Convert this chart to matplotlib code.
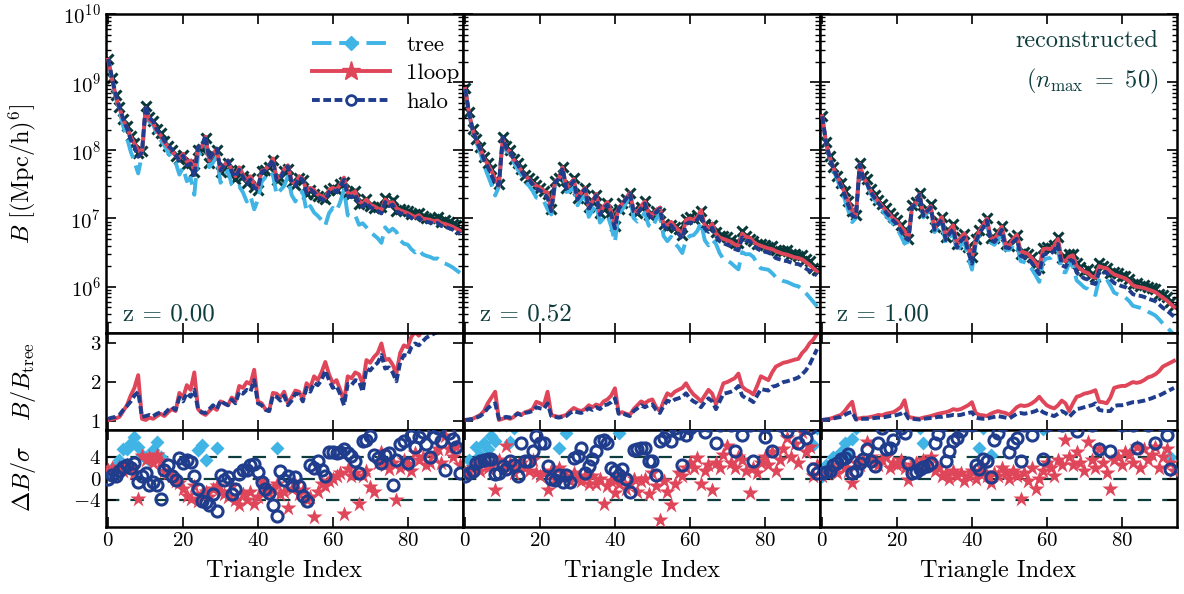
import numpy as np
import matplotlib
matplotlib.use("Agg")
import matplotlib.pyplot as plt
from matplotlib.lines import Line2D

plt.rcParams.update({
    "font.family": "cmr10",
    "mathtext.fontset": "cm",
    "axes.formatter.use_mathtext": True,
    "axes.linewidth": 1.8,
    "xtick.direction": "in", "ytick.direction": "in",
    "xtick.top": True, "ytick.right": True,
    "xtick.major.size": 7, "ytick.major.size": 7,
    "xtick.minor.size": 3.5, "ytick.minor.size": 3.5,
    "xtick.major.width": 1.2, "ytick.major.width": 1.2,
    "ytick.minor.width": 1.0,
})

TREE = "#3fb4e5"
LOOP = "#e0465a"
HALO = "#1f3d8c"
DATA = "#08393a"
TEAL = "#0f3d3e"

redshifts = ["z = 0.00", "z = 0.52", "z = 1.00"]
rel_err = [0.02, 0.02, 0.02]

# log10 of the 1-loop bispectrum per triangle index
logB_1loop = [
    [9.33, 9.05, 8.80, 8.62, 8.45, 8.33, 8.20, 8.10, 8.00, 7.95,
     8.62, 8.45, 8.40, 8.28, 8.22, 8.12, 8.05, 8.00, 7.92, 7.88,
     7.95, 7.83, 7.85, 7.70, 8.05, 8.05, 8.20, 7.85, 7.95, 8.02,
     7.70, 7.78, 7.85, 7.70, 7.62, 7.75, 7.65, 7.55, 7.62, 7.50,
     7.45, 7.70, 7.72, 7.78, 7.88, 7.58, 7.62, 7.72, 7.78, 7.55,
     7.50, 7.62, 7.58, 7.40, 7.45, 7.42, 7.35, 7.33, 7.30, 7.42,
     7.45, 7.42, 7.50, 7.60, 7.38, 7.35, 7.40, 7.25, 7.22, 7.28,
     7.20, 7.18, 7.15, 7.12, 7.28, 7.22, 7.24, 7.15, 7.12, 7.10,
     7.08, 7.05, 7.02, 7.05, 7.00, 6.99, 6.98, 6.96, 6.97, 6.93,
     6.92, 6.90, 6.88, 6.85, 6.82],
    [8.90, 8.55, 8.30, 8.15, 8.03, 7.88, 7.80, 7.70, 7.58, 7.48,
     8.18, 8.02, 7.98, 7.86, 7.80, 7.70, 7.62, 7.58, 7.52, 7.48,
     7.45, 7.40, 7.38, 7.12, 7.55, 7.58, 7.75, 7.45, 7.50, 7.58,
     7.30, 7.38, 7.45, 7.17, 7.25, 7.36, 7.08, 7.18, 7.24, 7.10,
     6.92, 7.15, 7.22, 7.30, 7.38, 7.12, 7.10, 7.18, 7.25, 7.08,
     7.05, 7.12, 7.16, 6.92, 6.90, 6.95, 6.88, 6.83, 6.76, 6.98,
     7.00, 6.98, 7.02, 7.12, 6.90, 6.86, 6.92, 6.78, 6.72, 6.70,
     6.68, 6.66, 6.62, 6.60, 6.78, 6.73, 6.72, 6.66, 6.62, 6.60,
     6.58, 6.56, 6.55, 6.52, 6.50, 6.48, 6.47, 6.45, 6.43, 6.42,
     6.40, 6.36, 6.32, 6.27, 6.22],
    [8.50, 8.12, 7.90, 7.74, 7.62, 7.50, 7.38, 7.25, 7.12, 7.03,
     7.80, 7.60, 7.52, 7.40, 7.32, 7.25, 7.18, 7.12, 7.06, 7.00,
     6.96, 6.88, 6.82, 6.70, 7.18, 7.22, 7.36, 7.05, 7.12, 7.18,
     6.86, 6.95, 7.02, 6.72, 6.82, 6.90, 6.62, 6.72, 6.78, 6.58,
     6.42, 6.70, 6.82, 6.90, 7.00, 6.72, 6.70, 6.78, 6.88, 6.62,
     6.60, 6.70, 6.76, 6.52, 6.50, 6.48, 6.42, 6.35, 6.28, 6.55,
     6.56, 6.55, 6.60, 6.70, 6.40, 6.37, 6.44, 6.46, 6.30, 6.26,
     6.22, 6.20, 6.15, 6.13, 6.30, 6.28, 6.27, 6.22, 6.18, 6.16,
     6.14, 6.12, 6.08, 6.02, 6.00, 5.99, 5.98, 5.96, 5.94, 5.92,
     5.88, 5.84, 5.80, 5.75, 5.70],
]

# B_1loop / B_tree
ratio_1loop = [
    [1.02, 1.04, 1.06, 1.10, 1.25, 1.40, 1.65, 1.85, 2.18, 1.05,
     1.02, 1.08, 1.05, 1.12, 1.18, 1.12, 1.22, 1.30, 1.25, 1.72,
     1.60, 1.92, 1.80, 2.25, 1.30, 1.20, 1.15, 1.25, 1.35, 1.28,
     1.50, 1.45, 1.40, 1.60, 1.50, 1.90, 1.85, 2.00, 1.95, 2.32,
     1.50, 1.45, 1.30, 1.25, 1.72, 1.70, 1.60, 1.75, 1.45, 1.60,
     1.78, 1.75, 1.55, 1.97, 1.85, 2.15, 2.05, 2.25, 2.52, 2.20,
     1.97, 2.05, 1.80, 1.50, 2.15, 2.10, 2.25, 2.20, 1.95, 2.57,
     2.50, 2.65, 2.75, 3.00, 2.57, 2.60, 2.45, 2.22, 2.75, 2.95,
     2.90, 3.17, 3.30, 3.20, 3.35, 3.45, 3.50, 3.55, 3.60, 3.70,
     3.80, 3.85, 3.95, 4.05, 4.15],
    [1.02, 1.03, 1.05, 1.10, 1.15, 1.25, 1.45, 1.60, 1.75, 1.02,
     1.05, 1.08, 1.05, 1.10, 1.20, 1.15, 1.22, 1.25, 1.30, 1.49,
     1.45, 1.40, 1.75, 1.15, 1.12, 1.10, 1.12, 1.15, 1.25, 1.33,
     1.28, 1.25, 1.30, 1.40, 1.35, 1.42, 1.38, 1.50, 1.55, 1.65,
     1.84, 1.20, 1.22, 1.18, 1.15, 1.30, 1.40, 1.50, 1.45, 1.52,
     1.55, 1.35, 1.25, 1.50, 1.71, 1.65, 1.75, 1.80, 1.85, 1.97,
     1.80, 1.68, 1.60, 1.50, 1.65, 1.80, 1.70, 1.42, 1.70, 1.97,
     2.00, 2.05, 2.10, 2.22, 1.88, 1.80, 1.75, 1.68, 1.90, 2.15,
     2.10, 2.05, 2.25, 2.40, 2.45, 2.50, 2.52, 2.55, 2.58, 2.60,
     2.75, 2.85, 3.00, 3.10, 3.25],
    [1.02, 1.03, 1.05, 1.08, 1.12, 1.15, 1.25, 1.38, 1.49, 1.05,
     1.06, 1.08, 1.08, 1.10, 1.12, 1.15, 1.14, 1.18, 1.20, 1.22,
     1.28, 1.35, 1.53, 1.10, 1.08, 1.06, 1.05, 1.08, 1.10, 1.12,
     1.15, 1.18, 1.20, 1.22, 1.25, 1.30, 1.28, 1.30, 1.35, 1.40,
     1.48, 1.20, 1.15, 1.14, 1.12, 1.18, 1.22, 1.25, 1.22, 1.20,
     1.15, 1.25, 1.35, 1.40, 1.38, 1.40, 1.45, 1.52, 1.62, 1.50,
     1.40, 1.35, 1.32, 1.40, 1.52, 1.45, 1.25, 1.45, 1.62, 1.65,
     1.70, 1.72, 1.75, 1.79, 1.49, 1.48, 1.45, 1.60, 1.85, 1.88,
     1.90, 1.90, 1.95, 2.00, 1.98, 2.00, 2.05, 2.12, 2.15, 2.20,
     2.28, 2.40, 2.45, 2.50, 2.55],
]

# B_halo / B_tree
ratio_halo = [
    [1.05, 1.08, 1.10, 1.15, 1.28, 1.38, 1.50, 1.65, 1.75, 1.10,
     1.12, 1.15, 1.12, 1.18, 1.22, 1.18, 1.28, 1.35, 1.28, 1.60,
     1.50, 1.72, 1.62, 1.80, 1.30, 1.22, 1.20, 1.30, 1.40, 1.30,
     1.52, 1.45, 1.40, 1.55, 1.45, 1.75, 1.70, 1.80, 1.75, 2.05,
     1.45, 1.40, 1.28, 1.25, 1.65, 1.62, 1.52, 1.65, 1.40, 1.52,
     1.70, 1.68, 1.50, 1.85, 1.75, 1.98, 1.92, 2.05, 2.30, 2.05,
     1.85, 1.90, 1.68, 1.40, 1.95, 1.92, 2.05, 2.02, 1.75, 2.35,
     2.30, 2.42, 2.50, 2.70, 2.35, 2.38, 2.25, 2.02, 2.50, 2.70,
     2.68, 2.90, 3.00, 2.95, 3.05, 3.15, 3.20, 3.25, 3.30, 3.38,
     3.45, 3.50, 3.58, 3.65, 3.72],
    [1.02, 1.03, 1.05, 1.08, 1.12, 1.20, 1.32, 1.40, 1.45, 1.05,
     1.08, 1.10, 1.08, 1.12, 1.18, 1.15, 1.20, 1.22, 1.25, 1.35,
     1.32, 1.30, 1.45, 1.12, 1.10, 1.08, 1.10, 1.12, 1.20, 1.25,
     1.22, 1.20, 1.25, 1.32, 1.28, 1.35, 1.30, 1.40, 1.42, 1.48,
     1.58, 1.18, 1.20, 1.15, 1.12, 1.25, 1.32, 1.40, 1.35, 1.40,
     1.42, 1.28, 1.20, 1.38, 1.52, 1.48, 1.55, 1.58, 1.62, 1.71,
     1.58, 1.50, 1.45, 1.35, 1.48, 1.58, 1.50, 1.30, 1.50, 1.70,
     1.72, 1.75, 1.80, 1.90, 1.65, 1.58, 1.55, 1.48, 1.65, 1.82,
     1.80, 1.78, 1.88, 1.90, 1.95, 2.00, 2.02, 2.05, 2.08, 2.12,
     2.20, 2.30, 2.45, 2.65, 2.85],
    [1.02, 1.03, 1.04, 1.06, 1.08, 1.10, 1.15, 1.20, 1.23, 1.03,
     1.04, 1.05, 1.05, 1.06, 1.07, 1.08, 1.08, 1.10, 1.12, 1.13,
     1.15, 1.18, 1.23, 1.06, 1.05, 1.04, 1.03, 1.05, 1.06, 1.07,
     1.08, 1.10, 1.10, 1.12, 1.13, 1.15, 1.14, 1.15, 1.18, 1.20,
     1.22, 1.08, 1.06, 1.05, 1.05, 1.08, 1.10, 1.12, 1.10, 1.08,
     1.06, 1.12, 1.18, 1.20, 1.18, 1.20, 1.22, 1.25, 1.30, 1.22,
     1.18, 1.15, 1.12, 1.18, 1.25, 1.20, 1.10, 1.20, 1.30, 1.32,
     1.35, 1.38, 1.40, 1.45, 1.28, 1.26, 1.25, 1.25, 1.38, 1.40,
     1.40, 1.42, 1.45, 1.48, 1.48, 1.50, 1.52, 1.55, 1.58, 1.62,
     1.65, 1.70, 1.75, 1.80, 1.85],
]

# (B_data - B_model) / sigma
res_tree = [
    [1.0, 1.8, 2.5, 3.5, 5.6, 5.6, 6.6, 7.8, 6.0, 4.5,
     4.0, 3.5, 5.3, 6.8, 4.1, 12, 14, 15, 16, 18,
     20, 22, 21, 19, 5.3, 6.2, 3.4, 15, 14, 5.8,
     16, 18, 20, 22, 19, 17, 24, 22, 20, 26,
     18, 16, 15, 14, 17, 5.8, 16, 18, 19, 20,
     22, 24, 25, 20, 21, 23, 25, 26, 28, 30,
     27, 26, 24, 22, 28, 30, 32, 29, 28, 34,
     35, 36, 38, 34, 32, 31, 30, 36, 38, 40,
     41, 42, 44, 45, 46, 47, 48, 50, 51, 52,
     53, 54, 55, 56, 57],
    [1.0, 3.4, 2.5, 5.9, 4.5, 6.7, 5.5, 8.0, 7.0, 10,
     11, 10, 6.9, 9.5, 12, 11, 13, 14, 15, 16,
     17, 18, 16, 15, 14, 5.8, 12, 8.5, 14, 16,
     17, 18, 19, 20, 18, 17, 19, 21, 20, 22,
     15, 8.5, 14, 12, 16, 18, 19, 20, 21, 22,
     20, 19, 21, 23, 24, 22, 25, 26, 24, 23,
     25, 27, 28, 26, 27, 29, 30, 28, 29, 31,
     32, 33, 34, 32, 31, 30, 33, 34, 35, 36,
     37, 38, 39, 40, 41, 42, 43, 44, 45, 46,
     47, 48, 49, 6.3, 9.5],
    [0.5, 2.5, 1.5, 4.0, 3.5, 5.0, 6.7, 4.5, 7.5, 9.5,
     10, 11, 12, 11, 13, 14, 15, 14, 16, 17,
     18, 16, 15, 14, 13, 11, 9.5, 6.7, 12, 14,
     15, 16, 17, 18, 16, 15, 17, 18, 19, 20,
     12, 11, 5.8, 9.5, 12, 4.5, 13, 14, 15, 16,
     14, 13, 15, 16, 17, 18, 16, 15, 17, 9.3,
     18, 19, 20, 18, 17, 19, 20, 21, 22, 23,
     24, 25, 26, 24, 23, 22, 24, 25, 26, 27,
     28, 29, 30, 31, 32, 33, 34, 35, 36, 37,
     38, 39, 40, 4.0, 10],
]

res_1loop = [
    [1.6, 2.0, 1.0, 2.2, 1.5, 2.5, 2.0, 1.0, -3.9, 4.2,
     3.5, 4.0, 3.0, 4.5, 3.2, 1.5, 1.0, 0.5, -0.5, -0.8,
     -2.0, -3.3, -3.9, -1.5, -4.2, -3.0, -2.5, -3.5, -2.0, -1.5,
     -2.5, -3.0, -3.5, -1.5, -4.0, -5.0, -3.0, -4.0, -2.5, -4.8,
     -3.5, -0.6, -1.5, -2.8, -2.0, -1.0, -3.0, -2.5, -5.6, -2.0,
     -1.0, -3.0, -2.2, -4.0, -3.5, -7.2, -2.5, -1.0, -1.5, -0.5,
     0.0, 0.5, 1.0, -6.7, 1.7, 0.5, 1.0, -4.8, 0.5, 1.5,
     -1.6, -2.5, 3.0, 5.0, 2.5, 1.7, 3.0, -4.0, 2.0, 3.5,
     2.7, 1.5, 4.8, 3.5, 4.0, 2.5, 3.0, 4.5, 5.5, 3.0,
     8.0, 5.5, 4.0, 6.0, 2.5],
    [1.0, 1.5, 2.0, 2.5, 1.5, 3.0, 2.0, 2.5, -2.2, 3.5,
     2.0, 6.1, 3.0, 1.0, 2.5, 3.0, 2.0, 1.5, 3.5, 1.0,
     0.5, 1.0, -2.2, 1.5, 0.0, 2.0, 1.0, 0.5, -0.5, 1.0,
     0.0, -0.5, 0.5, -1.0, 0.5, -1.0, 0.0, -4.7, -1.5, -0.5,
     -2.8, -1.0, 0.5, -2.0, -1.0, 0.0, -2.5, -0.5, 0.0, -3.0,
     1.0, -1.5, -7.8, -0.5, -2.5, -4.9, -1.0, 1.0, 0.5, 2.0,
     3.0, 2.0, 3.9, -1.0, 1.5, 2.5, -2.2, 3.0, 2.0, 4.5,
     6.1, 3.0, 2.0, 4.0, 3.5, 1.5, -2.8, 2.0, 1.0, 3.0,
     4.0, 2.5, 5.0, 1.5, 3.5, 5.5, 7.6, 4.0, 6.5, 3.0,
     8.8, 5.0, 6.0, 0.5, 2.5],
    [0.5, 1.0, 1.5, 2.0, 1.0, 2.5, 2.0, 1.5, -0.8, 3.0,
     2.5, 3.5, 6.9, 4.0, 3.0, 2.5, 3.5, 4.0, 2.0, 3.0,
     2.5, 3.5, 2.0, -0.3, 2.5, 3.0, 2.0, 3.5, 2.5, 4.0,
     1.5, 2.0, 0.5, 1.0, 0.0, 1.5, 0.5, 1.0, -0.5, 0.5,
     1.5, 0.0, 1.0, 2.0, 0.5, -0.9, 1.0, 0.5, 2.0, 1.0,
     0.0, 1.5, 0.5, -3.8, 1.0, -0.5, 2.0, -2.0, 0.0, 1.5,
     3.0, 2.0, 0.5, 3.5, 2.5, 7.3, 4.0, 2.5, 5.0, 3.0,
     1.5, 6.9, 3.5, 2.0, 5.5, 3.0, 1.0, -2.0, 3.5, 4.0,
     2.5, 5.0, 4.5, 3.0, 6.0, 2.0, 5.5, 3.5, 4.5, 6.0,
     2.0, 4.0, 5.5, 3.0, 1.5],
]

res_halo = [
    [0.0, 0.7, 0.5, 1.5, 2.2, 2.5, 2.0, 3.0, -0.7, 0.5,
     1.0, -1.3, -0.7, -1.3, -3.8, 1.6, 2.5, 0.5, -0.3, 3.8,
     3.0, 3.5, 3.1, 0.5, -2.0, -4.2, -4.5, -4.9, -3.0, -6.1,
     0.6, -0.3, 0.3, -3.0, -2.0, 0.8, 1.6, 1.6, 2.5, 2.8,
     1.2, -0.7, -2.0, -2.7, -5.0, -7.0, 1.5, -0.3, 0.5, -1.3,
     0.3, -1.5, -3.3, -4.2, 2.5, 2.0, 3.3, 1.6, 0.5, 5.0,
     5.0, 4.8, 5.0, 5.6, 4.7, 4.3, 3.3, 1.0, 7.0, 7.3,
     8.0, 4.5, 3.8, 3.0, 4.5, 4.7, -1.2, 3.5, 6.5, 7.0,
     3.0, 8.0, 6.0, 7.8, 8.7, 6.5, 4.0, 7.8, 9.5, 7.0,
     1.6, 8.5, 7.5, 6.0, 1.0],
    [0.5, 1.0, 1.5, 3.0, 3.3, 3.5, 3.6, 3.6, 0.8, 1.1,
     2.4, 1.8, 3.3, 2.6, 0.5, 6.7, 3.3, 3.3, 5.2, 8.0,
     6.7, 6.7, 2.4, 0.0, -0.3, 0.6, -0.6, 0.6, -0.6, 3.9,
     4.2, 5.8, 1.1, 2.4, 3.6, 5.2, 7.0, 7.3, 6.7, 2.0,
     1.4, 0.6, 1.8, 0.0, -2.5, 5.4, 5.6, 5.8, 5.8, 3.3,
     3.3, 0.6, 7.0, 7.6, 8.9, 7.0, 9.5, 8.5, 2.6, 8.2,
     9.5, 10, 11, 10, 8.8, 10, 11, 6.7, 10, 11,
     12, 10, 5.2, 10, 8.2, 11, 10, 3.3, 11, 10,
     7.7, 10, 5.2, 11, 10, 12, 9.0, 10, 11, 6.7,
     10, 7.6, 9.5, 1.8, 1.0],
    [1.1, 1.2, 1.4, 2.5, 3.0, 3.6, 3.9, 4.6, 1.1, 1.4,
     3.0, 3.6, 5.5, 3.3, 2.4, 6.7, 9.5, 5.5, 5.8, 7.3,
     10, 9.5, 8.5, 3.0, 1.1, 1.3, 1.8, 2.2, 2.4, 3.0,
     6.7, 8.3, 10, 3.3, 5.2, 7.0, 7.6, 8.9, 10, 11,
     10, 2.5, 1.8, 3.6, 3.3, 0.2, 7.3, 8.5, 10, 11,
     5.0, 6.7, 7.6, 3.3, 10, 11, 8.2, 10, 11, 3.6,
     10, 11, 12, 11, 10, 12, 11, 10, 9.0, 12,
     11, 12, 10, 11, 5.5, 12, 11, 5.2, 12, 11,
     10, 12, 11, 10, 5.8, 12, 11, 10, 12, 6.7,
     11, 10, 8.2, 1.8, 11],
]

idx = np.arange(len(logB_1loop[0]))

W, H = 11.84, 5.94
fig = plt.figure(figsize=(W, H), dpi=100)

lefts = [106, 463, 820]
width = 357
rows = [(14, 333), (333, 430), (430, 527)]


def box(px_left, top, bottom):
    return [px_left / 1184, 1 - bottom / 594, width / 1184, (bottom - top) / 594]


for c in range(3):
    b1 = 10 ** np.array(logB_1loop[c])
    btree = b1 / np.array(ratio_1loop[c])
    bhalo = btree * np.array(ratio_halo[c])
    bdata = b1 * (1 + rel_err[c] * np.array(res_1loop[c]))

    ax0 = fig.add_axes(box(lefts[c], *rows[0]))
    ax1 = fig.add_axes(box(lefts[c], *rows[1]))
    ax2 = fig.add_axes(box(lefts[c], *rows[2]))

    # top: bispectrum
    ax0.plot(idx, bdata, "x", color=DATA, ms=7, mew=2.2, zorder=1)
    ax0.plot(idx, btree, color=TREE, lw=2.8, dashes=(5, 2), zorder=2)
    ax0.plot(idx, b1, color=LOOP, lw=2.8, zorder=3)
    ax0.plot(idx, bhalo, color=HALO, lw=2.8, dashes=(2, 0.9), zorder=4)
    ax0.set_yscale("log")
    ax0.set_ylim(10 ** 5.32, 1e10)
    ax0.text(0.048, 0.04, redshifts[c], transform=ax0.transAxes,
             fontsize=18, color=TEAL)

    # middle: ratio to tree
    ax1.plot(idx, ratio_1loop[c], color=LOOP, lw=2.8)
    ax1.plot(idx, ratio_halo[c], color=HALO, lw=2.8, dashes=(2, 0.9))
    ax1.set_ylim(0.76, 3.27)
    ax1.set_yticks([1, 2, 3])

    # bottom: residuals
    for lv in [-4, 0, 4]:
        ax2.axhline(lv, color=TEAL, lw=1.6, dashes=(6, 5), zorder=1)
    ax2.plot(idx, res_tree[c], "D", color=TREE, ms=7, mec="none", zorder=2)
    ax2.plot(idx, res_1loop[c], "*", color=LOOP, ms=12, mec="none", zorder=3)
    ax2.plot(idx, res_halo[c], "o", mfc="none", mec=HALO, ms=8, mew=2.2, zorder=4)
    ax2.set_ylim(-9.1, 9.1)
    ax2.set_yticks([-4, 0, 4])
    ax2.set_xlabel("Triangle Index", fontsize=17.5, labelpad=7)

    for ax in (ax0, ax1, ax2):
        ax.set_xlim(-0.6, 94.8)
        ax.set_xticks([0, 20, 40, 60, 80])
        ax.tick_params(labelsize=15, which="both")
        if c > 0:
            ax.tick_params(labelleft=False)
    ax0.tick_params(labelbottom=False)
    ax1.tick_params(labelbottom=False)

    if c == 0:
        ax0.set_ylabel(r"$B\ [({\rm Mpc/h})^6]$", fontsize=17.5)
        ax0.yaxis.set_label_coords(-0.19, 0.5)
        ax1.set_ylabel(r"$B/B_{\rm tree}$", fontsize=17.5)
        ax1.yaxis.set_label_coords(-0.19, 0.5)
        ax2.set_ylabel(r"$\Delta B/\sigma$", fontsize=17.5)
        ax2.yaxis.set_label_coords(-0.19, 0.5)
        handles = [
            Line2D([], [], color=TREE, lw=2.8, dashes=(5, 2), marker="D",
                   ms=7, mec=TREE),
            Line2D([], [], color=LOOP, lw=2.8, marker="*", ms=14, mec=LOOP),
            Line2D([], [], color=HALO, lw=2.8, dashes=(2, 0.9), marker="o",
                   ms=7, mfc="white", mec=HALO, mew=2),
        ]
        ax0.legend(handles, ["tree", "1loop", "halo"], loc="upper left",
                   bbox_to_anchor=(0.52, 1.0), frameon=False, fontsize=16.5,
                   numpoints=1, handlelength=3.4, handletextpad=0.7,
                   labelspacing=0.38)
    if c == 2:
        ax0.text(0.947, 0.915, "reconstructed", transform=ax0.transAxes,
                 fontsize=17.5, color=TEAL, ha="right", va="center")
        ax0.text(0.947, 0.79, r"$(n_{\rm max}\ =\ 50)$", transform=ax0.transAxes,
                 fontsize=17.5, color=TEAL, ha="right", va="center")

fig.savefig("out.png", dpi=100)
